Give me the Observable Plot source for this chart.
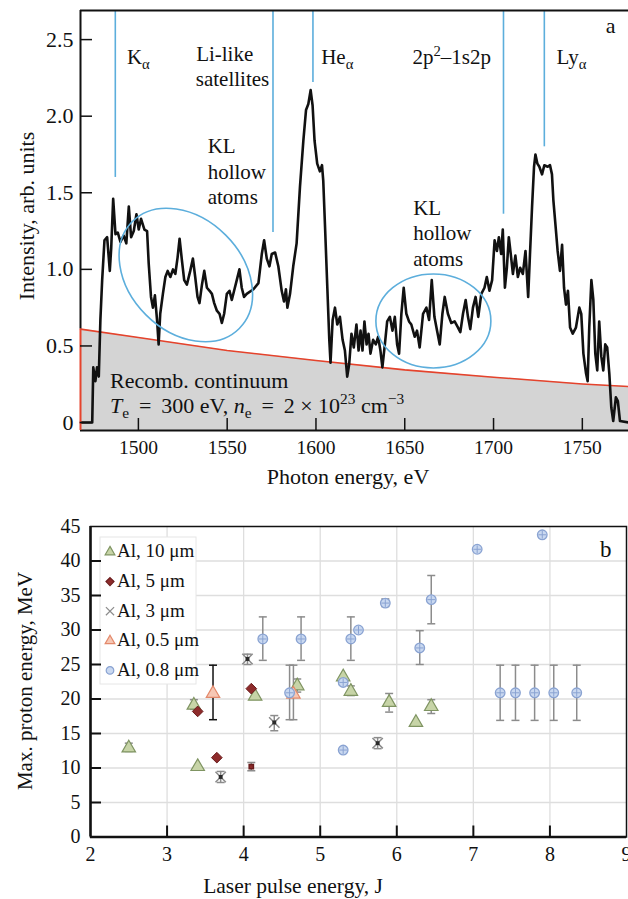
<!DOCTYPE html>
<html>
<head>
<meta charset="utf-8">
<script src="https://cdn.jsdelivr.net/npm/d3@7"></script>
<script src="https://cdn.jsdelivr.net/npm/@observablehq/plot@0.6"></script>
<style>
  body { margin: 0; background: #fff; }
  #chart svg { display: block; }
</style>
</head>
<body>
<div id="chart"></div>
<script>
// ---------- Panel a: X-ray spectrum ----------
const energy = [
  1467.5, 1474.0, 1474.6, 1475.8, 1476.7, 1477.7, 1478.6, 1479.6, 1480.9, 1482.4,
  1483.9, 1484.7, 1485.8, 1487.1, 1488.4, 1489.9, 1491.7, 1493.2, 1494.6, 1495.9,
  1497.4, 1498.9, 1500.2, 1501.5, 1503.4, 1504.9, 1505.8, 1507.1, 1508.2, 1509.3,
  1510.5, 1511.4, 1512.3, 1513.8, 1515.2, 1516.5, 1518.0, 1519.5, 1520.8, 1522.1,
  1523.2, 1524.5, 1525.8, 1527.3, 1529.2, 1530.7, 1532.0, 1533.3, 1534.4, 1535.8,
  1537.1, 1538.6, 1540.1, 1541.4, 1542.7, 1544.2, 1545.7, 1547.0, 1548.3, 1549.8,
  1551.3, 1552.6, 1553.9, 1555.4, 1556.9, 1558.2, 1559.5, 1561.0, 1564.8, 1567.6,
  1569.5, 1570.8, 1572.3, 1573.8, 1575.1, 1577.0, 1578.8, 1580.7, 1582.0, 1583.1,
  1583.9, 1585.4, 1587.2, 1589.1, 1591.0, 1592.9, 1594.4, 1595.7, 1597.0, 1598.1,
  1599.2, 1600.7, 1602.2, 1603.4, 1604.1, 1605.2, 1606.4, 1607.5, 1608.2, 1609.4,
  1610.7, 1612.0, 1613.5, 1615.0, 1616.3, 1617.6, 1618.7, 1620.0, 1621.3, 1622.8,
  1624.0, 1625.1, 1626.2, 1627.3, 1628.5, 1629.6, 1630.7, 1632.2, 1633.7, 1635.0,
  1636.3, 1637.4, 1638.8, 1640.1, 1641.6, 1643.1, 1644.4, 1645.7, 1646.8, 1648.1,
  1649.4, 1650.9, 1652.4, 1653.7, 1655.6, 1656.9, 1658.4, 1660.3, 1662.2, 1663.7,
  1665.2, 1666.7, 1668.2, 1669.7, 1671.2, 1672.5, 1674.3, 1676.2, 1678.1, 1680.0,
  1681.3, 1682.8, 1684.3, 1685.6, 1686.9, 1688.4, 1689.9, 1691.4, 1693.1, 1694.9,
  1696.2, 1697.7, 1699.2, 1700.6, 1701.9, 1703.0, 1704.3, 1705.2, 1706.4, 1707.5,
  1708.6, 1709.7, 1710.9, 1712.3, 1713.7, 1715.0, 1716.5, 1718.0, 1719.5, 1720.6,
  1721.7, 1722.8, 1723.6, 1724.7, 1725.8, 1727.3, 1728.6, 1730.5, 1731.8, 1732.9,
  1733.7, 1734.8, 1736.1, 1737.4, 1738.6, 1739.7, 1740.8, 1741.9, 1743.1, 1744.6,
  1746.4, 1748.3, 1749.4, 1750.6, 1752.1, 1753.0, 1753.9, 1755.1, 1756.2, 1757.3,
  1758.4, 1759.5, 1760.7, 1761.8, 1762.9, 1764.0, 1765.2, 1766.3, 1767.4, 1768.9,
  1770.0, 1771.2, 1776.0
];
const intensity = [
  0.00, 0.00, 0.36, 0.27, 0.36, 0.30, 0.67, 0.93, 1.19, 1.21,
  0.99, 1.14, 1.46, 1.23, 1.24, 1.18, 1.22, 1.17, 1.41, 1.21,
  1.25, 1.36, 1.26, 1.33, 1.26, 1.25, 1.04, 0.82, 0.75, 0.83,
  0.67, 0.51, 0.71, 0.84, 0.95, 0.99, 0.95, 1.00, 0.97, 1.08,
  1.20, 1.06, 0.93, 0.90, 0.99, 1.07, 0.95, 0.82, 0.78, 0.90,
  0.99, 0.88, 0.86, 0.84, 0.78, 0.73, 0.71, 0.65, 0.71, 0.84,
  0.86, 0.80, 0.86, 0.93, 1.00, 0.88, 0.82, 0.84, 0.87, 0.91,
  1.10, 1.19, 1.07, 1.02, 1.10, 1.11, 1.02, 0.86, 0.79, 0.87,
  0.75, 0.84, 1.02, 1.17, 1.54, 1.84, 2.04, 2.08, 2.17, 2.07,
  1.84, 1.69, 1.64, 1.68, 1.58, 1.25, 0.88, 0.54, 0.39, 0.67,
  0.75, 0.64, 0.69, 0.54, 0.47, 0.30, 0.38, 0.58, 0.49, 0.64,
  0.47, 0.60, 0.47, 0.66, 0.51, 0.58, 0.45, 0.54, 0.51, 0.56,
  0.47, 0.36, 0.51, 0.66, 0.69, 0.60, 0.69, 0.51, 0.45, 0.71,
  0.88, 0.71, 0.66, 0.64, 0.56, 0.60, 0.49, 0.71, 0.75, 0.67,
  0.93, 0.69, 0.60, 0.51, 0.71, 0.82, 0.71, 0.65, 0.66, 0.62,
  0.59, 0.71, 0.80, 0.69, 0.61, 0.75, 0.82, 0.69, 0.84, 0.88,
  0.95, 0.86, 0.93, 1.19, 1.12, 1.21, 1.10, 1.26, 0.88, 1.01,
  1.21, 1.10, 0.97, 1.09, 0.95, 1.01, 0.97, 1.12, 0.82, 1.12,
  1.41, 1.67, 1.75, 1.69, 1.67, 1.62, 1.68, 1.67, 1.68, 1.62,
  1.45, 1.30, 1.12, 0.99, 1.16, 0.88, 0.77, 0.86, 0.62, 0.58,
  0.62, 0.75, 0.71, 0.45, 0.32, 0.27, 0.62, 0.93, 0.80, 0.45,
  0.34, 0.66, 0.43, 0.34, 0.51, 0.49, 0.32, 0.10, 0.01, 0.165,
  0.14, 0.01, 0.00
];
// recombination continuum (Te = 300 eV)
const contEnergy = [1467.4, 1500, 1550, 1600, 1650, 1700, 1750, 1776];
const contIntensity = [0.61, 0.555, 0.47, 0.405, 0.344, 0.296, 0.252, 0.235];
// emission line markers: position and lower end of the marker
const lineEnergy = [1487.0, 1575.8, 1598.3, 1705.6, 1728.6];
const lineFoot = [1.60, 1.24, 2.22, 1.36, 1.80];
const xTicksTop = [1500, 1550, 1600, 1650, 1700, 1750];
const yTicksTop = [0, 0.5, 1.0, 1.5, 2.0, 2.5];

// ---------- Panel b: proton energies ----------
const al10 = [[2.5, 12.9], [3.35, 19.1], [3.4, 10.2], [4.15, 20.4], [4.7, 21.9], [5.3, 23.2],
              [5.4, 21.1], [5.9, 19.5], [6.25, 16.6], [6.45, 18.9]];
const al5 = [[3.4, 18.2], [3.65, 11.5], [4.1, 21.5]];
const al5Small = [[4.1, 10.2]];
const al3 = [[4.05, 25.8], [4.4, 16.6], [3.7, 8.7], [5.75, 13.6]];
const al05 = [[3.6, 20.8], [4.65, 20.7]];
const al08 = [[4.6, 20.9], [4.25, 28.7], [4.75, 28.7], [5.3, 22.4], [5.3, 12.6], [5.4, 28.7],
              [5.5, 30.0], [5.85, 33.9], [6.3, 27.4], [6.45, 34.4], [7.05, 41.7], [7.35, 20.9],
              [7.55, 20.9], [7.8, 20.9], [7.9, 43.8], [8.05, 20.9], [8.35, 20.9]];
// error bars: [energy, low, high]
const err10 = [[2.5, 12.4, 13.6], [3.35, 18.5, 19.9], [4.7, 21.0, 22.9], [5.4, 20.5, 21.9],
               [5.9, 18.1, 20.8], [6.45, 17.9, 19.9]];
const err5 = [[4.1, 9.6, 10.8]];
const err3 = [[4.05, 25.0, 26.5], [4.4, 15.4, 17.6], [3.7, 7.9, 9.5], [5.75, 12.8, 14.4]];
const err05 = [[3.6, 17.0, 24.9], [4.65, 17.0, 24.9]];
const err08 = [[4.6, 17.0, 24.9], [4.25, 25.6, 31.9], [4.75, 25.6, 31.9], [5.4, 25.6, 31.9],
               [5.85, 33.4, 34.5], [6.3, 25.0, 29.9], [6.45, 30.9, 37.9], [7.35, 16.9, 24.9],
               [7.55, 16.9, 24.9], [7.8, 16.9, 24.9], [8.05, 16.9, 24.9], [8.35, 16.9, 24.9]];
const legendLabels = ["Al, 10 μm", "Al, 5 μm", "Al, 3 μm", "Al, 0.5 μm", "Al, 0.8 μm"];
const xTicksBottom = [2, 3, 4, 5, 6, 7, 8, 9];
const yTicksBottom = [0, 5, 10, 15, 20, 25, 30, 35, 40, 45];

// ---------- shared helpers ----------
const W = 628;
const serif = "'Liberation Serif', 'Times New Roman', Times, serif";
const blue = "#5caedc";
const red = "#e5432c";

// text with italic / sub / superscript runs; pos(scales, dims) gives the anchor point
function rich(parts, pos, {size = 21, anchor = "start", rotate = 0} = {}) {
  return (index, scales, values, dims) => {
    const [px, py] = pos(scales, dims);
    const t = d3.create("svg:text")
      .attr("transform", `translate(${px},${py})` + (rotate ? ` rotate(${rotate})` : ""))
      .attr("text-anchor", anchor)
      .attr("font-size", size)
      .attr("fill", "#111");
    let shift = 0;
    for (const p of [].concat(parts)) {
      const part = typeof p === "string" ? {t: p} : p;
      const target = part.sub ? size * 0.25 : part.sup ? -size * 0.4 : 0;
      const ts = t.append("tspan").text(part.t);
      if (target !== shift) { ts.attr("dy", target - shift); shift = target; }
      if (part.sub || part.sup) ts.attr("font-size", size * 0.7);
      if (part.i) ts.attr("font-style", "italic");
    }
    return t.node();
  };
}
const at = (xv, yv) => ({x, y}) => [x(xv), y(yv)];

// horizontal cap for error bars
const cap = {draw(ctx, size) { const w = Math.sqrt(size / Math.PI); ctx.moveTo(-w, 0); ctx.lineTo(w, 0); }};

// ---------- panel a ----------
const spectrum = energy.map((e, i) => ({energy: e, intensity: intensity[i]}));
const continuum = contEnergy.map((e, i) => ({energy: e, intensity: contIntensity[i]}));
const lines = lineEnergy.map((e, i) => ({energy: e, foot: lineFoot[i]}));

const topH = 500, topM = {top: 10, right: 0, bottom: 70, left: 80};
const topFH = topH - topM.top - topM.bottom;
const topFW = W - topM.left - topM.right;
const eMin = 1467.4, eMax = 1776, iMin = -0.052, iMax = 2.69;

const panelA = Plot.plot({
  width: W, height: topH,
  marginTop: topM.top, marginRight: topM.right, marginBottom: topM.bottom, marginLeft: topM.left,
  x: {domain: [eMin, eMax], axis: null},
  y: {domain: [iMin, iMax], axis: null},
  style: {fontFamily: serif, fontSize: "20px", background: "white", color: "#111", overflow: "visible"},
  marks: [
    Plot.areaY(continuum, {x: "energy", y1: iMin, y2: "intensity", fill: "#d4d4d4"}),
    Plot.line(continuum, {x: "energy", y: "intensity", stroke: red, strokeWidth: 1.6}),
    Plot.line(spectrum, {x: "energy", y: "intensity", stroke: "#111", strokeWidth: 2.6, strokeLinejoin: "round"}),
    Plot.ruleX(lines, {x: "energy", y1: "foot", y2: iMax, stroke: blue, strokeWidth: 1.6}),
    // KL hollow-atom regions
    (index, {x, y}) => {
      const g = d3.create("svg:g").attr("fill", "none").attr("stroke", blue).attr("stroke-width", 1.6);
      [[1527.0, 0.96, 75.6, 56.4, 45], [1666.4, 0.66, 57.5, 47, 0]].forEach(([e, v, rx, ry, a]) => {
        const cx = x(e), cy = y(v);
        g.append("ellipse").attr("cx", cx).attr("cy", cy).attr("rx", rx).attr("ry", ry)
          .attr("transform", `rotate(${a},${cx},${cy})`);
      });
      return g.node();
    },
    Plot.ruleY([iMax], {stroke: "#111", strokeWidth: 2}),
    Plot.ruleY([iMin], {stroke: "#111", strokeWidth: 2}),
    Plot.ruleX([eMin], {y1: contIntensity[0], y2: iMax, stroke: "#111", strokeWidth: 2}),
    Plot.ruleX([eMin], {y1: iMin, y2: contIntensity[0], stroke: red, strokeWidth: 2}),
    Plot.ruleX(xTicksTop, {x: d => d, insetTop: topFH - 12, stroke: "#111", strokeWidth: 1.5}),
    Plot.ruleY(yTicksTop, {y: d => d, insetRight: topFW - 12, stroke: "#111", strokeWidth: 1.5}),
    Plot.text(xTicksTop, {x: d => d, frameAnchor: "bottom", dy: 23.3, text: d => String(d), fontSize: 19.5, fill: "#111"}),
    Plot.text(yTicksTop, {y: d => d, frameAnchor: "left", dx: -7, textAnchor: "end",
      text: d => d === 0 ? "0" : d.toFixed(1), fontSize: 22, fill: "#111"}),
    rich(["K", {t: "α", sub: true}], at(1493.8, 2.337)),
    rich(["Li-like"], at(1532.8, 2.356)),
    rich(["satellites"], at(1532.6, 2.193)),
    rich(["KL"], at(1539.3, 1.756)),
    rich(["hollow"], at(1539.3, 1.586)),
    rich(["atoms"], at(1539.3, 1.423)),
    rich(["He", {t: "α", sub: true}], at(1603.2, 2.337)),
    rich(["2p", {t: "2", sup: true}, "–1s2p"], at(1654.6, 2.337)),
    rich(["Ly", {t: "α", sub: true}], at(1735.8, 2.337)),
    rich(["a"], at(1763.5, 2.539), {size: 22}),
    rich(["KL"], at(1655.0, 1.351)),
    rich(["hollow"], at(1655.0, 1.188)),
    rich(["atoms"], at(1655.0, 1.018)),
    rich(["Recomb. continuum"], at(1484.3, 0.222), {size: 22}),
    rich([{t: "T", i: true}, {t: "e", sub: true}, " \u2009=\u2009 300 eV, ", {t: "n", i: true}, {t: "e", sub: true},
          " \u2009=\u2009 2 × 10", {t: "23", sup: true}, " cm", {t: "−3", sup: true}], at(1484.3, 0.059), {size: 22}),
    rich(["Intensity, arb. units"], () => [33.5, 216], {size: 22, anchor: "middle", rotate: -90}),
    rich(["Photon energy, eV"], () => [348, 484], {size: 22, anchor: "middle"})
  ]
});

// ---------- panel b ----------
const botH = 399, botM = {top: 26, right: 2, bottom: 62.5, left: 90};
const botFH = botH - botM.top - botM.bottom;
const botFW = W - botM.left - botM.right;
const gray = "#8c8c8c";
const green = {fill: "#c7d4a7", stroke: "#7f9462"};
const maroon = {fill: "#8e2b2b", stroke: "#6a1c1c"};
const pink = {fill: "#f6c7b4", stroke: "#e3896b"};
const lightBlue = {fill: "#c9d8f0", stroke: "#8aa3d2"};

const bars = (data, stroke = gray) => [
  Plot.ruleX(data, {x: d => d[0], y1: d => d[1], y2: d => d[2], stroke, strokeWidth: 1.5}),
  Plot.dot(data, {x: d => d[0], y: d => d[1], symbol: cap, r: 4, stroke, strokeWidth: 1.5}),
  Plot.dot(data, {x: d => d[0], y: d => d[2], symbol: cap, r: 4, stroke, strokeWidth: 1.5})
];
const px = d => d[0], py = d => d[1];

const panelB = Plot.plot({
  width: W, height: botH,
  marginTop: botM.top, marginRight: botM.right, marginBottom: botM.bottom, marginLeft: botM.left,
  x: {domain: [2, 9], axis: null},
  y: {domain: [0, 45], axis: null},
  style: {fontFamily: serif, fontSize: "20px", background: "white", color: "#111", overflow: "visible"},
  marks: [
    Plot.ruleX(xTicksBottom.slice(1, -1), {x: d => d, stroke: "#dedede", strokeWidth: 1.3}),
    Plot.ruleY(yTicksBottom.slice(1, -1), {y: d => d, stroke: "#dedede", strokeWidth: 1.3}),
    // legend
    () => {
      const g = d3.create("svg:g");
      g.append("rect").attr("x", 100).attr("y", 37).attr("width", 96).attr("height", 147)
        .attr("fill", "white").attr("stroke", "#e6e6e6").attr("stroke-width", 1);
      const styles = [
        [d3.symbolTriangle, green, 3.6], [d3.symbolDiamond2, maroon, 3.6],
        [d3.symbolTimes, {fill: "none", stroke: gray}, 3.8], [d3.symbolTriangle, pink, 3.6],
        [d3.symbolCircle, lightBlue, 3.8]
      ];
      legendLabels.forEach((label, i) => {
        const cy = 51 + i * 29.6;
        const [type, st, r] = styles[i];
        g.append("path").attr("d", d3.symbol(type, Math.PI * r * r)())
          .attr("transform", `translate(110,${cy + 1})`)
          .attr("fill", st.fill).attr("stroke", st.stroke).attr("stroke-width", 1.2);
        g.append("text").attr("x", 117).attr("y", cy).attr("dy", "0.34em")
          .attr("text-anchor", "start")
          .attr("font-size", 19).attr("fill", "#111").text(label);
      });
      return g.node();
    },
    ...bars(err10), ...bars(err5), ...bars(err3), ...bars(err08),
    ...bars(err05.slice(1)), ...bars(err05.slice(0, 1), "#111"),
    Plot.dot(al10, {x: px, y: py, symbol: "triangle", r: 5, ...green, strokeWidth: 1.2}),
    Plot.dot(al05, {x: px, y: py, symbol: "triangle", r: 5, ...pink, strokeWidth: 1.2}),
    Plot.dot(al08, {x: px, y: py, symbol: "circle", r: 4.8, ...lightBlue, strokeWidth: 1.3}),
    Plot.dot(al08, {x: px, y: py, symbol: "plus", r: 2.6, stroke: lightBlue.stroke, strokeWidth: 1}),
    Plot.dot(al5, {x: px, y: py, symbol: "diamond2", r: 4.8, ...maroon, strokeWidth: 1}),
    Plot.dot(al5Small, {x: px, y: py, symbol: "square", r: 2.4, ...maroon}),
    Plot.dot(al3, {x: px, y: py, symbol: "times", r: 4.8, stroke: gray, strokeWidth: 1.5}),
    Plot.dot(al3, {x: px, y: py, symbol: "square", r: 2.2, fill: "#2a2a2a"}),
    Plot.frame({stroke: "#111", strokeWidth: 1.5}),
    Plot.ruleX([2], {stroke: "#111", strokeWidth: 2.5}),
    Plot.ruleY([0], {stroke: "#111", strokeWidth: 2.5}),
    Plot.ruleX(xTicksBottom.slice(1, -1), {x: d => d, insetTop: botFH - 11, stroke: "#111", strokeWidth: 2}),
    Plot.ruleY(yTicksBottom.slice(1, -1), {y: d => d, insetRight: botFW - 11, stroke: "#111", strokeWidth: 2}),
    Plot.text(xTicksBottom, {x: d => d, frameAnchor: "bottom", dy: 24, text: d => String(d), fontSize: 20, fill: "#111"}),
    Plot.text(yTicksBottom, {y: d => d, frameAnchor: "left", dx: -10, textAnchor: "end", text: d => String(d), fontSize: 20, fill: "#111"}),
    rich(["b"], () => [600, 56.7], {size: 23}),
    rich(["Max. proton energy, MeV"], () => [32, 181], {size: 21, anchor: "middle", rotate: -90}),
    rich(["Laser pulse energy, J"], () => [293, 393], {size: 21.5, anchor: "middle"})
  ]
});

const chart = document.getElementById("chart");
chart.append(panelA, panelB);
</script>
</body>
</html>
